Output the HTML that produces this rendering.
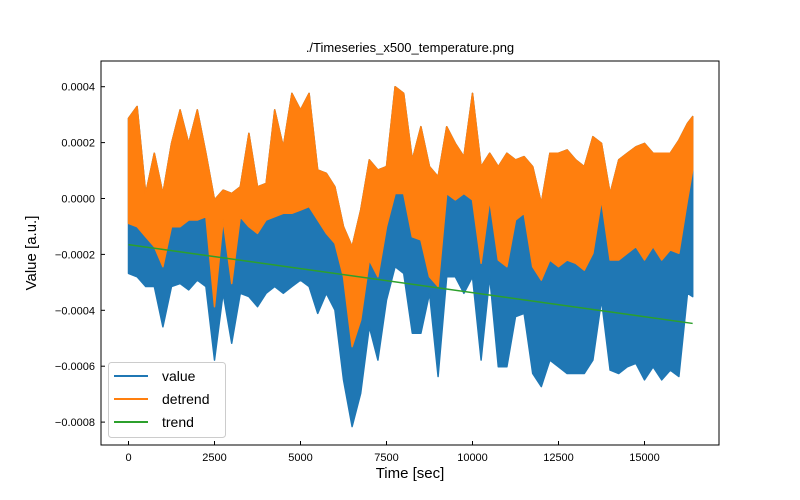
<!DOCTYPE html>
<html><head><meta charset="utf-8"><style>
body{margin:0;background:#fff;}
svg{display:block;font-family:"Liberation Sans",sans-serif;}
</style></head><body>
<svg id="chart" width="800" height="500">
<rect width="800" height="500" fill="#fff"/>
<text x="410" y="52" text-anchor="middle" font-size="13">./Timeseries_x500_temperature.png</text>
<g id="plot"></g>
<text x="410" y="478" text-anchor="middle" font-size="15">Time [sec]</text>
<text transform="translate(36,253) rotate(-90)" text-anchor="middle" font-size="15">Value [a.u.]</text>
</svg>
<script>
const SCALE = 1e-4;
const times = [0,250,500,750,1000,1250,1500,1750,2000,2250,2500,2750,3000,3250,3500,3750,4000,4250,4500,4750,5000,5250,5500,5750,6000,6250,6500,6750,7000,7250,7500,7750,8000,8250,8500,8750,9000,9250,9500,9750,10000,10250,10500,10750,11000,11250,11500,11750,12000,12250,12500,12750,13000,13250,13500,13750,14000,14250,14500,14750,15000,15250,15500,15750,16000,16250,16400];
const detrendHi = [2.87,3.29,0.18,1.62,0.18,1.97,3.17,1.97,3.17,1.62,-0.05,0.30,0.18,0.42,2.33,0.42,0.54,3.17,1.85,3.76,3.17,3.76,1.02,0.90,0.42,-1.01,-1.72,-0.41,1.38,1.02,1.14,4.00,3.76,1.38,2.57,1.14,0.78,2.57,1.97,1.50,3.76,1.14,1.62,1.14,1.62,1.38,1.50,1.14,-0.17,1.62,1.62,1.74,1.38,1.14,2.21,1.97,0.18,1.38,1.62,1.85,1.97,1.62,1.62,1.62,2.09,2.69,2.93];
const detrendLo = [-0.89,-1.01,-1.37,-1.72,-2.44,-1.01,-1.01,-0.77,-0.77,-0.65,-3.87,-0.77,-3.04,-0.65,-1.01,-1.25,-0.77,-0.65,-0.53,-0.53,-0.41,-0.29,-0.77,-1.25,-1.60,-2.80,-5.30,-4.35,-2.20,-2.80,-1.01,0.18,0.18,-1.37,-1.48,-2.80,-3.15,0.18,-0.05,0.18,-0.05,-2.32,-0.05,-2.20,-2.44,-0.77,-0.53,-2.44,-2.92,-2.20,-2.44,-2.20,-2.32,-2.56,-1.96,-0.05,-2.20,-2.20,-1.96,-1.72,-2.20,-1.72,-2.20,-1.84,-1.96,-0.05,1.02];
const valueLo = [-2.68,-2.80,-3.15,-3.15,-4.59,-3.15,-3.04,-3.27,-2.92,-3.15,-5.78,-3.39,-5.18,-3.39,-3.51,-3.87,-3.39,-3.15,-3.39,-3.15,-2.92,-3.15,-4.11,-3.39,-3.99,-6.49,-8.16,-6.97,-4.59,-5.78,-3.63,-2.44,-2.68,-4.82,-4.82,-3.39,-6.37,-2.80,-2.80,-3.39,-2.80,-5.78,-2.80,-6.02,-6.02,-4.23,-4.11,-6.26,-6.73,-5.78,-6.02,-6.26,-6.26,-6.26,-5.78,-3.63,-6.14,-6.26,-6.02,-5.90,-6.49,-6.02,-6.49,-6.14,-6.37,-3.39,-3.51];
const trendT = [0,16400];
const trendV = [-1.65,-4.47];
const xTicks = [0,2500,5000,7500,10000,12500,15000];
const xTickLabels = ["0","2500","5000","7500","10000","12500","15000"];
const yTicks = [4,2,0,-2,-4,-6,-8];
const yTickLabels = ["0.0004","0.0002","0.0000","\u22120.0002","\u22120.0004","\u22120.0006","\u22120.0008"];

const L=101,R=719,T=61,B=445;
const xs = t => 128.5 + t*0.034400;
const ys = v => 198.5 - v*SCALE/0.0002*55.9;
const NS="http://www.w3.org/2000/svg";
const g=document.getElementById('plot');
function mk(tag,attrs,parent){const e=document.createElementNS(NS,tag);for(const k in attrs)e.setAttribute(k,attrs[k]);(parent||g).appendChild(e);return e;}

function band(hi,lo,color){
  let pts=[];
  for(let i=0;i<times.length;i++)pts.push(xs(times[i]).toFixed(1)+','+ys(hi[i]).toFixed(1));
  for(let i=times.length-1;i>=0;i--)pts.push(xs(times[i]).toFixed(1)+','+ys(lo[i]).toFixed(1));
  return mk('polygon',{points:pts.join(' '),fill:color,stroke:color,'stroke-width':1.5,'stroke-linejoin':'round'});
}
const vb=band(detrendHi,valueLo,'#1f77b4');


const db=band(detrendHi,detrendLo,'#ff7f0e');


const tl=mk('line',{x1:xs(trendT[0]),y1:ys(trendV[0]),x2:xs(trendT[1]),y2:ys(trendV[1]),stroke:'#2ca02c','stroke-width':1.5});



const frame=mk('rect',{x:L,y:T,width:R-L,height:B-T,fill:'none',stroke:'#000','stroke-width':1});



xTicks.forEach((t,i)=>{
  const x=xs(t);
  const tk=mk('line',{x1:x,y1:B,x2:x,y2:B-4,stroke:'#000'});
  
  
  const tx=mk('text',{x:x,y:B+16,'text-anchor':'middle','font-size':11});
  tx.textContent=xTickLabels[i];
  
  
});
yTicks.forEach((v,i)=>{
  const y=ys(v);
  const tk=mk('line',{x1:L,y1:y,x2:L+4,y2:y,stroke:'#000'});
  
  
  const tx=mk('text',{x:L-6,y:y+4,'text-anchor':'end','font-size':11});
  tx.textContent=yTickLabels[i];
  
  
});

const lg=mk('g',{});


mk('rect',{x:108.5,y:362.5,width:117,height:75,rx:3,fill:'#fff','fill-opacity':0.8,stroke:'#ccc'},lg);
[['value','#1f77b4',376],['detrend','#ff7f0e',399],['trend','#2ca02c',422]].forEach(e=>{
  const row=mk('g',{},lg);
  
  
  mk('line',{x1:114,y1:e[2],x2:148,y2:e[2],stroke:e[1],'stroke-width':2},row);
  const t=mk('text',{x:162,y:e[2]+5,'font-size':14},row);
  t.textContent=e[0];
});
</script>
</body></html>
